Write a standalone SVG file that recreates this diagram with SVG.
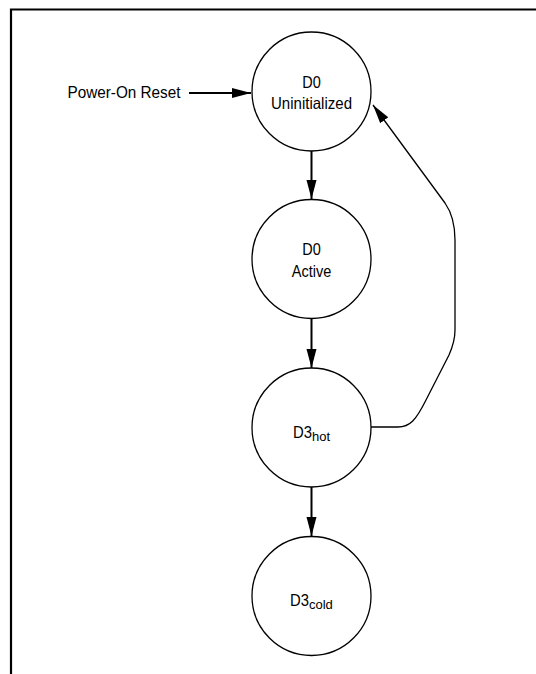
<svg xmlns="http://www.w3.org/2000/svg" width="536" height="674" viewBox="0 0 536 674">
<defs>
<style>
.st{fill:#fff;stroke:#000;stroke-width:1.3}
.t{font-family:"Liberation Sans",Arial,sans-serif;font-size:16.5px;fill:#000;text-anchor:middle}
.s{text-anchor:start}
.sub{font-size:13px}
.c{fill:none;stroke:#000}
</style>
<marker id="ah" markerUnits="userSpaceOnUse" markerWidth="20" markerHeight="12" refX="19" refY="5" orient="auto" viewBox="0 0 20 10">
<path d="M0,0 L19,5 L0,10 z" fill="#000"/>
</marker>
</defs>
<rect width="536" height="674" fill="#fff"/>
<path d="M11,674 V9.5 H536" fill="none" stroke="#000" stroke-width="2.2"/>
<g id="connectors">
<line class="c" x1="189" y1="93" x2="251" y2="93" stroke-width="2" marker-end="url(#ah)"/>
<line class="c" x1="311.5" y1="151" x2="311.5" y2="199" stroke-width="2" marker-end="url(#ah)"/>
<line class="c" x1="311.5" y1="319" x2="311.5" y2="368" stroke-width="2" marker-end="url(#ah)"/>
<line class="c" x1="311.5" y1="487" x2="311.5" y2="536" stroke-width="2" marker-end="url(#ah)"/>
<path class="c" stroke-width="1.3" d="M371,427 L398,427 C410,427 416,420 426,400 L449,355 C453,346 455,340 455,330 L455,240 C455,225 452,213 445,203 L373,105" marker-end="url(#ah)"/>
</g>
<g id="power-on-reset">
<text class="t" x="124" y="97.5" textLength="113" lengthAdjust="spacingAndGlyphs">Power-On Reset</text>
</g>
<g id="d0-uninitialized">
<circle class="st" cx="311.5" cy="91.5" r="59.5"/>
<text class="t" x="311.5" y="88" textLength="18.5" lengthAdjust="spacingAndGlyphs">D0</text>
<text class="t" x="311.5" y="108.5" textLength="81" lengthAdjust="spacingAndGlyphs">Uninitialized</text>
</g>
<g id="d0-active">
<circle class="st" cx="311.5" cy="259" r="59.5"/>
<text class="t" x="311.5" y="255" textLength="18.5" lengthAdjust="spacingAndGlyphs">D0</text>
<text class="t" x="311.5" y="276.5" textLength="39.5" lengthAdjust="spacingAndGlyphs">Active</text>
</g>
<g id="d3-hot">
<circle class="st" cx="311.5" cy="427.5" r="59.5"/>
<text class="t s" x="293" y="438"><tspan textLength="19" lengthAdjust="spacingAndGlyphs">D3</tspan><tspan class="sub" dy="3">hot</tspan></text>
</g>
<g id="d3-cold">
<circle class="st" cx="311.5" cy="596" r="59.5"/>
<text class="t s" x="290" y="606"><tspan textLength="19" lengthAdjust="spacingAndGlyphs">D3</tspan><tspan class="sub" dy="3">cold</tspan></text>
</g>
</svg>
